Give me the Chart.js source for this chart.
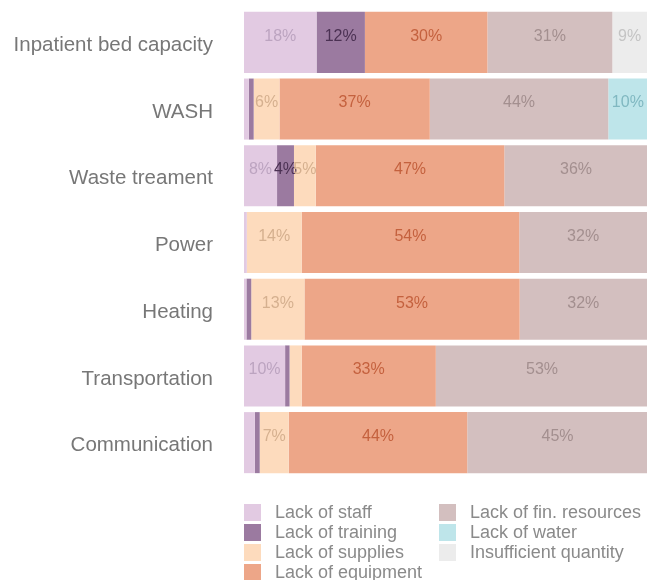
<!DOCTYPE html>
<html>
<head>
<meta charset="utf-8">
<script src="https://cdn.jsdelivr.net/npm/chart.js@4/dist/chart.umd.min.js"></script>
<style>
html,body{margin:0;padding:0;background:#fff;}
#wrap{width:647px;height:580px;position:relative;}
</style>
</head>
<body>
<div id="wrap"><canvas id="c" width="647" height="580"></canvas></div>
<script>
const categories = ["Inpatient bed capacity","WASH","Waste treament","Power","Heating","Transportation","Communication"];
const seriesNames = ["Lack of staff","Lack of training","Lack of supplies","Lack of equipment","Lack of fin. resources","Lack of water","Insufficient quantity"];
const lackOfStaff        = [18, 1.2, 8.2, 0.7, 0.6, 10.2, 2.7];
const lackOfTraining     = [12, 1.2, 4.2, 0,   1.2, 1.1,  1.2];
const lackOfSupplies     = [0,  6.4, 5.4, 13.6, 13.2, 3.0, 7.2];
const lackOfEquipment    = [30.4, 37.3, 46.8, 54.0, 53.4, 33.3, 44.3];
const lackOfFinResources = [31, 44.3, 35.6, 31.7, 31.6, 52.7, 44.8];
const lackOfWater        = [0,  9.7, 0, 0, 0, 0, 0];
const insufficientQty    = [8.6, 0, 0, 0, 0, 0, 0];
const seriesValues = [lackOfStaff, lackOfTraining, lackOfSupplies, lackOfEquipment, lackOfFinResources, lackOfWater, insufficientQty];

const fillColors  = ["#e2cae2","#9b7aa0","#fddbbd","#eda688","#d3bfbf","#bee5ea","#ececec"];
const labelColors = ["#bca4c0","#4b3153","#d5b08f","#c4613e","#a38f8f","#80b8c1","#c4c4c4"];

const datasets = seriesNames.map((n,i)=>({
  label:n, data:seriesValues[i], backgroundColor:fillColors[i], borderWidth:0,
  barPercentage:0.915, categoryPercentage:1.0
}));

const segLabels = {
  id:'segLabels',
  afterDatasetsDraw(chart){
    const ctx = chart.ctx;
    ctx.save();
    ctx.font = '16px "Liberation Sans", Arial, sans-serif';
    ctx.textAlign = 'center';
    ctx.textBaseline = 'middle';
    chart.data.datasets.forEach((ds,di)=>{
      const meta = chart.getDatasetMeta(di);
      meta.data.forEach((bar,i)=>{
        const v = ds.data[i];
        if (v >= 4) {
          const cx = (bar.x + bar.base)/2;
          ctx.fillStyle = labelColors[di];
          ctx.fillText(Math.round(v)+'%', cx, bar.y-6);
        }
      });
    });
    ctx.restore();
  }
};

const legendPlugin = {
  id:'customLegend',
  afterDraw(chart){
    const ctx = chart.ctx;
    ctx.save();
    ctx.font = '18px "Liberation Sans", Arial, sans-serif';
    ctx.textAlign = 'left';
    ctx.textBaseline = 'middle';
    seriesNames.forEach((n,i)=>{
      const col = i < 4 ? 0 : 1;
      const row = i < 4 ? i : i-4;
      const bx = col === 0 ? 244 : 439;
      const by = 504 + row*20;
      ctx.fillStyle = fillColors[i];
      ctx.fillRect(bx, by, 17, 17);
      ctx.fillStyle = '#8a8a8a';
      ctx.fillText(n, bx+31, by+9);
    });
    ctx.restore();
  }
};

new Chart(document.getElementById('c'), {
  type:'bar',
  data:{labels:categories, datasets},
  options:{
    indexAxis:'y',
    responsive:false,
    animation:false,
    layout:{padding:{top:9,bottom:104,left:0,right:0}},
    plugins:{legend:{display:false},tooltip:{enabled:false}},
    scales:{
      x:{stacked:true,min:0,max:100,display:false},
      y:{stacked:true,
         grid:{display:false,drawTicks:false},
         border:{display:false},
         afterFit(s){ s.width = 244; s.paddingTop = 0; s.paddingBottom = 0; },
         ticks:{padding:31,labelOffset:3,color:'#777',font:{family:'"Liberation Sans", Arial, sans-serif',size:20.5}}
      }
    }
  },
  plugins:[segLabels, legendPlugin]
});
</script>
</body>
</html>
